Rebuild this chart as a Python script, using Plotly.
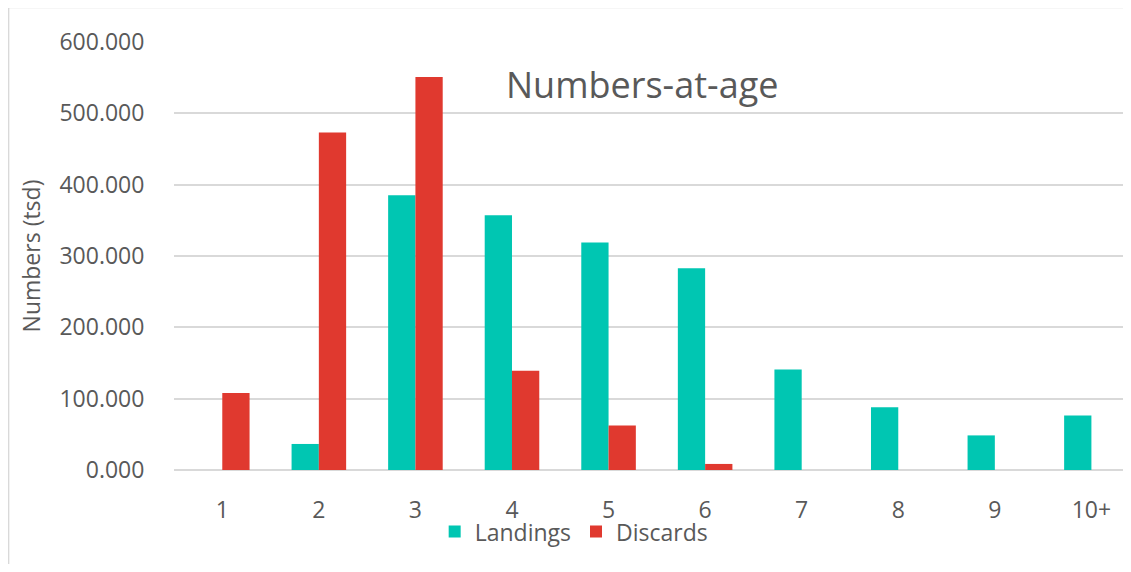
import plotly.graph_objects as go

ages = ["1", "2", "3", "4", "5", "6", "7", "8", "9", "10+"]
landings = [0, 36.5, 385, 357, 319, 283, 141, 88, 48.5, 76.5]
discards = [108, 473, 551, 139, 62.5, 8.5, 0, 0, 0, 0]
y_ticks = [0, 100, 200, 300, 400, 500, 600]

TEAL = "#00C6B2"
RED = "#E0392F"
GRAY = "#595959"
GRID = "#D9D9D9"
FONT = "Open Sans"

# the page body has an 8px default margin; size the figure so the page
# does not overflow the window (no scrollbars)
OFF = 8
W, H = 1131 - OFF, 572 - 2 * OFF
L, R, T = 173.7 - OFF, 0, 41.7 - OFF
B = (572 - OFF - OFF) - (470.3 - OFF)
plot_w = W - L - R
plot_h = H - T - B
cat_px = 96.6
x_max = -0.5 + plot_w / cat_px

def px_to_paper_x(px):
    return (px - OFF - L) / plot_w

def px_to_paper_y(py):
    return (H - B - (py - OFF)) / plot_h

fig = go.Figure()
fig.add_trace(go.Bar(name="Landings", x=ages, y=landings, marker_color=TEAL,
                     marker_line_width=0))
fig.add_trace(go.Bar(name="Discards", x=ages, y=discards, marker_color=RED,
                     marker_line_width=0))

fig.update_layout(
    width=W, height=H,
    margin=dict(l=L, r=R, t=T, b=B, autoexpand=False),
    paper_bgcolor="white", plot_bgcolor="white",
    barmode="group", bargap=0.435, bargroupgap=0,
    font=dict(family=FONT, size=23, color=GRAY),
    showlegend=True,
    legend=dict(orientation="h", x=px_to_paper_x(574), xanchor="center",
                y=px_to_paper_y(532), yanchor="middle",
                font=dict(size=23, color=GRAY), bgcolor="rgba(0,0,0,0)",
                itemwidth=30, tracegroupgap=0),
    xaxis=dict(type="category", range=[-0.5, x_max], showgrid=False,
               showline=False, zeroline=False, ticks="outside", ticklen=19,
               tickcolor="rgba(0,0,0,0)", tickfont=dict(size=23, color=GRAY),
               automargin=False),
    yaxis=dict(range=[0, 600], tickvals=y_ticks, tickformat=".3f",
               showgrid=True, gridcolor=GRID, gridwidth=2, zeroline=True,
               zerolinecolor=GRID, zerolinewidth=2, showline=False,
               ticks="outside", ticklen=24, tickcolor="rgba(0,0,0,0)",
               tickfont=dict(size=23, color=GRAY), automargin=False,
               title=dict(text="Numbers (tsd)", standoff=12,
                          font=dict(size=23, color=GRAY))),
    annotations=[dict(text="Numbers-at-age", xref="paper", yref="paper",
                      x=px_to_paper_x(642), y=px_to_paper_y(84),
                      xanchor="center", yanchor="middle", showarrow=False,
                      font=dict(size=36, color=GRAY, family=FONT))],
    shapes=[dict(type="rect", xref="paper", yref="paper",
                 x0=px_to_paper_x(8), x1=px_to_paper_x(1145),
                 y0=px_to_paper_y(590), y1=px_to_paper_y(7),
                 line=dict(color=GRID, width=2), layer="below")],
)

fig.write_html("out.html")
